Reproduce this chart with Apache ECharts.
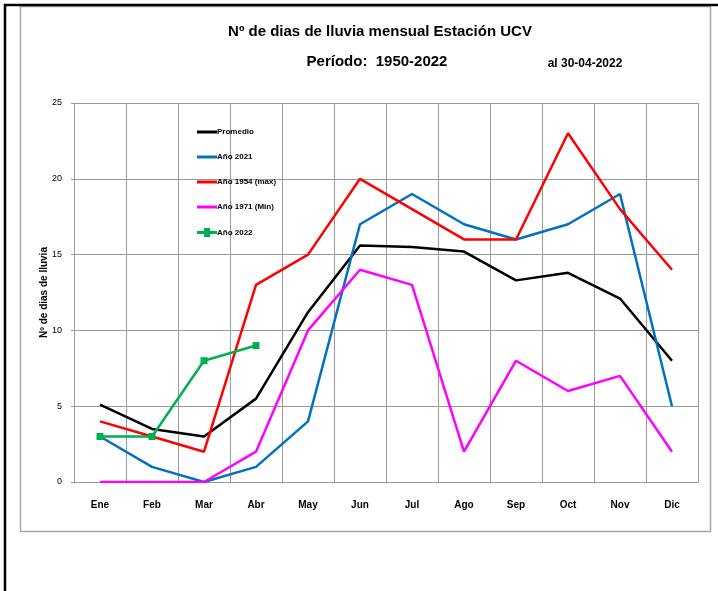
<!DOCTYPE html>
<html>
<head>
<meta charset="utf-8">
<script src="https://cdn.jsdelivr.net/npm/echarts@6/dist/echarts.min.js"></script>
<style>
  html, body { margin: 0; padding: 0; background: #fff; }
  #main { width: 718px; height: 591px; }
</style>
</head>
<body>
<div id="main"></div>
<script>
// meses
var meses = ['Ene', 'Feb', 'Mar', 'Abr', 'May', 'Jun', 'Jul', 'Ago', 'Sep', 'Oct', 'Nov', 'Dic'];

// dias de lluvia por mes
var promedio = [5.1, 3.5, 3.0, 5.5, 11.2, 15.6, 15.5, 15.2, 13.3, 13.8, 12.1, 8.0];
var anio2021 = [3, 1, 0, 1, 4, 17, 19, 17, 16, 17, 19, 5];
var anio1954 = [4, 3, 2, 13, 15, 20, 18, 16, 16, 23, 18, 14];
var anio1971 = [0, 0, 0, 2, 10, 14, 13, 2, 8, 6, 7, 2];
var anio2022 = [3, 3, 8, 9];

var fuente = "'Liberation Sans', Arial, sans-serif";

// iconos de la leyenda
var iconoLinea = 'path://M0,0 H20 V3 H0 Z';
var iconoMarca = 'path://M0,3 H7 V0 H13 V3 H20 V6 H13 V9 H7 V6 H0 Z';

var myChart = echarts.init(document.getElementById('main'));

function serie(nombre, datos, color, extra) {
	var s = {
		name : nombre,
		type : 'line',
		data : datos,
		symbol : 'none',
		showSymbol : false,
		lineStyle : { color : color, width : 2.5 },
		itemStyle : { color : color },
		animation : false,
		z : 3
	};
	if (extra) {
		for (var k in extra) s[k] = extra[k];
	}
	return s;
}

var option = {
	backgroundColor : '#FFFFFF',
	animation : false,
	title : [{
		text : 'Nº de dias de lluvia mensual Estación UCV',
		left : 375, top : 19, textAlign : 'center',
		textStyle : { fontFamily : fuente, fontWeight : 'bold', fontSize : 15, color : '#000' }
	}, {
		text : 'Período:  1950-2022',
		left : 372, top : 49, textAlign : 'center',
		textStyle : { fontFamily : fuente, fontWeight : 'bold', fontSize : 15, color : '#000' }
	}, {
		text : 'al 30-04-2022',
		left : 580, top : 53, textAlign : 'center',
		textStyle : { fontFamily : fuente, fontWeight : 'bold', fontSize : 12, color : '#000' }
	}],
	legend : {
		orient : 'vertical',
		left : 192, top : 123,
		itemGap : 17,
		itemWidth : 20, itemHeight : 10,
		textStyle : { fontFamily : fuente, fontWeight : 'bold', fontSize : 8, color : '#000', padding : [0, 0, 0, -5] },
		data : [
			{ name : 'Promedio', icon : iconoLinea },
			{ name : 'Año 2021', icon : iconoLinea },
			{ name : 'Año 1954 (max)', icon : iconoLinea },
			{ name : 'Año 1971 (Min)', icon : iconoLinea },
			{ name : 'Año 2022', icon : iconoMarca }
		]
	},
	grid : { left : 74, right : 20, top : 103, bottom : 109 },
	xAxis : {
		type : 'category',
		data : meses,
		boundaryGap : true,
		axisLine : { lineStyle : { color : '#999', width : 1 } },
		axisTick : { show : false },
		splitLine : { show : true, interval : 0, lineStyle : { color : '#999', width : 1 } },
		axisLabel : { interval : 0, margin : 18, fontFamily : fuente, fontWeight : 'bold', fontSize : 10, color : '#000' }
	},
	yAxis : {
		type : 'value',
		min : 0, max : 25, interval : 5,
		name : 'Nº de dias de lluvia',
		nameLocation : 'middle',
		nameGap : 25,
		nameMoveOverlap : false,
		nameTextStyle : { fontFamily : fuente, fontWeight : 'bold', fontSize : 10, color : '#000' },
		axisLine : { show : true, lineStyle : { color : '#999', width : 1 } },
		axisTick : { show : true, length : 3, lineStyle : { color : '#999' } },
		splitLine : { show : true, lineStyle : { color : '#999', width : 1 } },
		axisLabel : { margin : 12, fontFamily : fuente, fontSize : 9, color : '#000' }
	},
	series : [
		serie('Promedio', promedio, '#000000'),
		serie('Año 2021', anio2021, '#0070C0'),
		serie('Año 1954 (max)', anio1954, '#FF0000'),
		serie('Año 1971 (Min)', anio1971, '#FF00FF'),
		serie('Año 2022', anio2022, '#00B050', { symbol : 'rect', symbolSize : 7, showSymbol : true, z : 4 })
	],
	graphic : [{
		type : 'rect', silent : true, z : -1,
		shape : { x : 20.5, y : 6.5, width : 690, height : 525 },
		style : { fill : null, stroke : '#a6a6a6', lineWidth : 1.5 }
	}, {
		type : 'line', silent : true,
		shape : { x1 : 4, y1 : 5, x2 : 718, y2 : 5 },
		style : { stroke : '#000', lineWidth : 2.5 }
	}, {
		type : 'line', silent : true,
		shape : { x1 : 5, y1 : 4, x2 : 5, y2 : 591 },
		style : { stroke : '#000', lineWidth : 2.5 }
	}]
};

myChart.setOption(option);
</script>
</body>
</html>
